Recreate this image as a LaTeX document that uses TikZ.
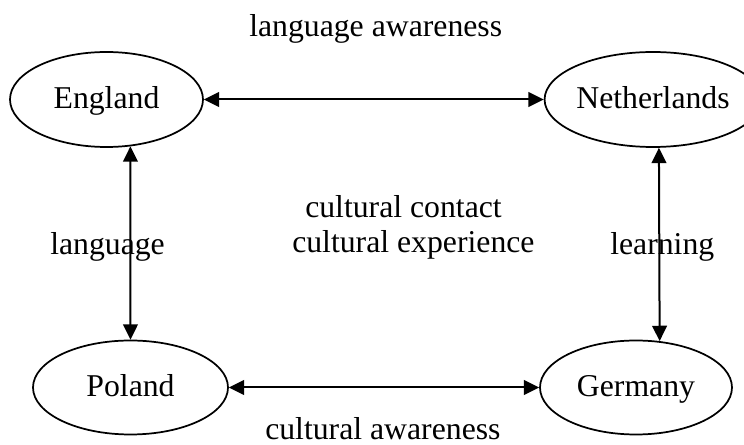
\documentclass[tikz,border=0pt]{standalone}
\usepackage{fontspec}
\setmainfont{Liberation Serif}
\usetikzlibrary{shapes.geometric,arrows.meta}
\begin{document}
\begin{tikzpicture}[x=0.75pt,y=-0.75pt,
  country/.style={draw,ellipse,line width=1.3pt,inner sep=0pt,text height=15pt,text depth=2.2pt,font=\fontsize{23.8}{28}\selectfont},
  lbl/.style={anchor=base west,inner sep=0pt,font=\fontsize{23.8}{28}\selectfont},
  arr/.style={line width=1.5pt,{Triangle[length=11.5pt,width=11pt]}-{Triangle[length=11.5pt,width=11pt]}}]
\useasboundingbox (0,0) rectangle (744,445);
\node[country,minimum width=144.75pt,minimum height=71.25pt] (England) at (106.5,99.5) {England};
\node[country,minimum width=135pt,minimum height=71.25pt] (Netherlands) at (653,99.5) {Netherlands};
\node[country,minimum width=146.25pt,minimum height=70.5pt] (Poland) at (130.5,387.5) {Poland};
\node[country,minimum width=144pt,minimum height=70.5pt] (Germany) at (636,387.5) {Germany};
\draw[arr] (England.east) -- (Netherlands.west);
\draw[arr] (Poland.east) -- (Germany.west);
\draw[arr] (England.-63) -- (Poland.north);
\draw[arr] (Netherlands.-83) -- (Germany.63);
\node[lbl] (t1) at (249,37) {language awareness};
\node[lbl] (t2) at (305,218) {cultural contact};
\node[lbl] (t3) at (292,253) {cultural experience};
\node[lbl] (t4) at (50,255) {language};
\node[lbl] (t5) at (610,255) {learning};
\node[lbl] (t6) at (265,440) {cultural awareness};
\end{tikzpicture}
\end{document}
